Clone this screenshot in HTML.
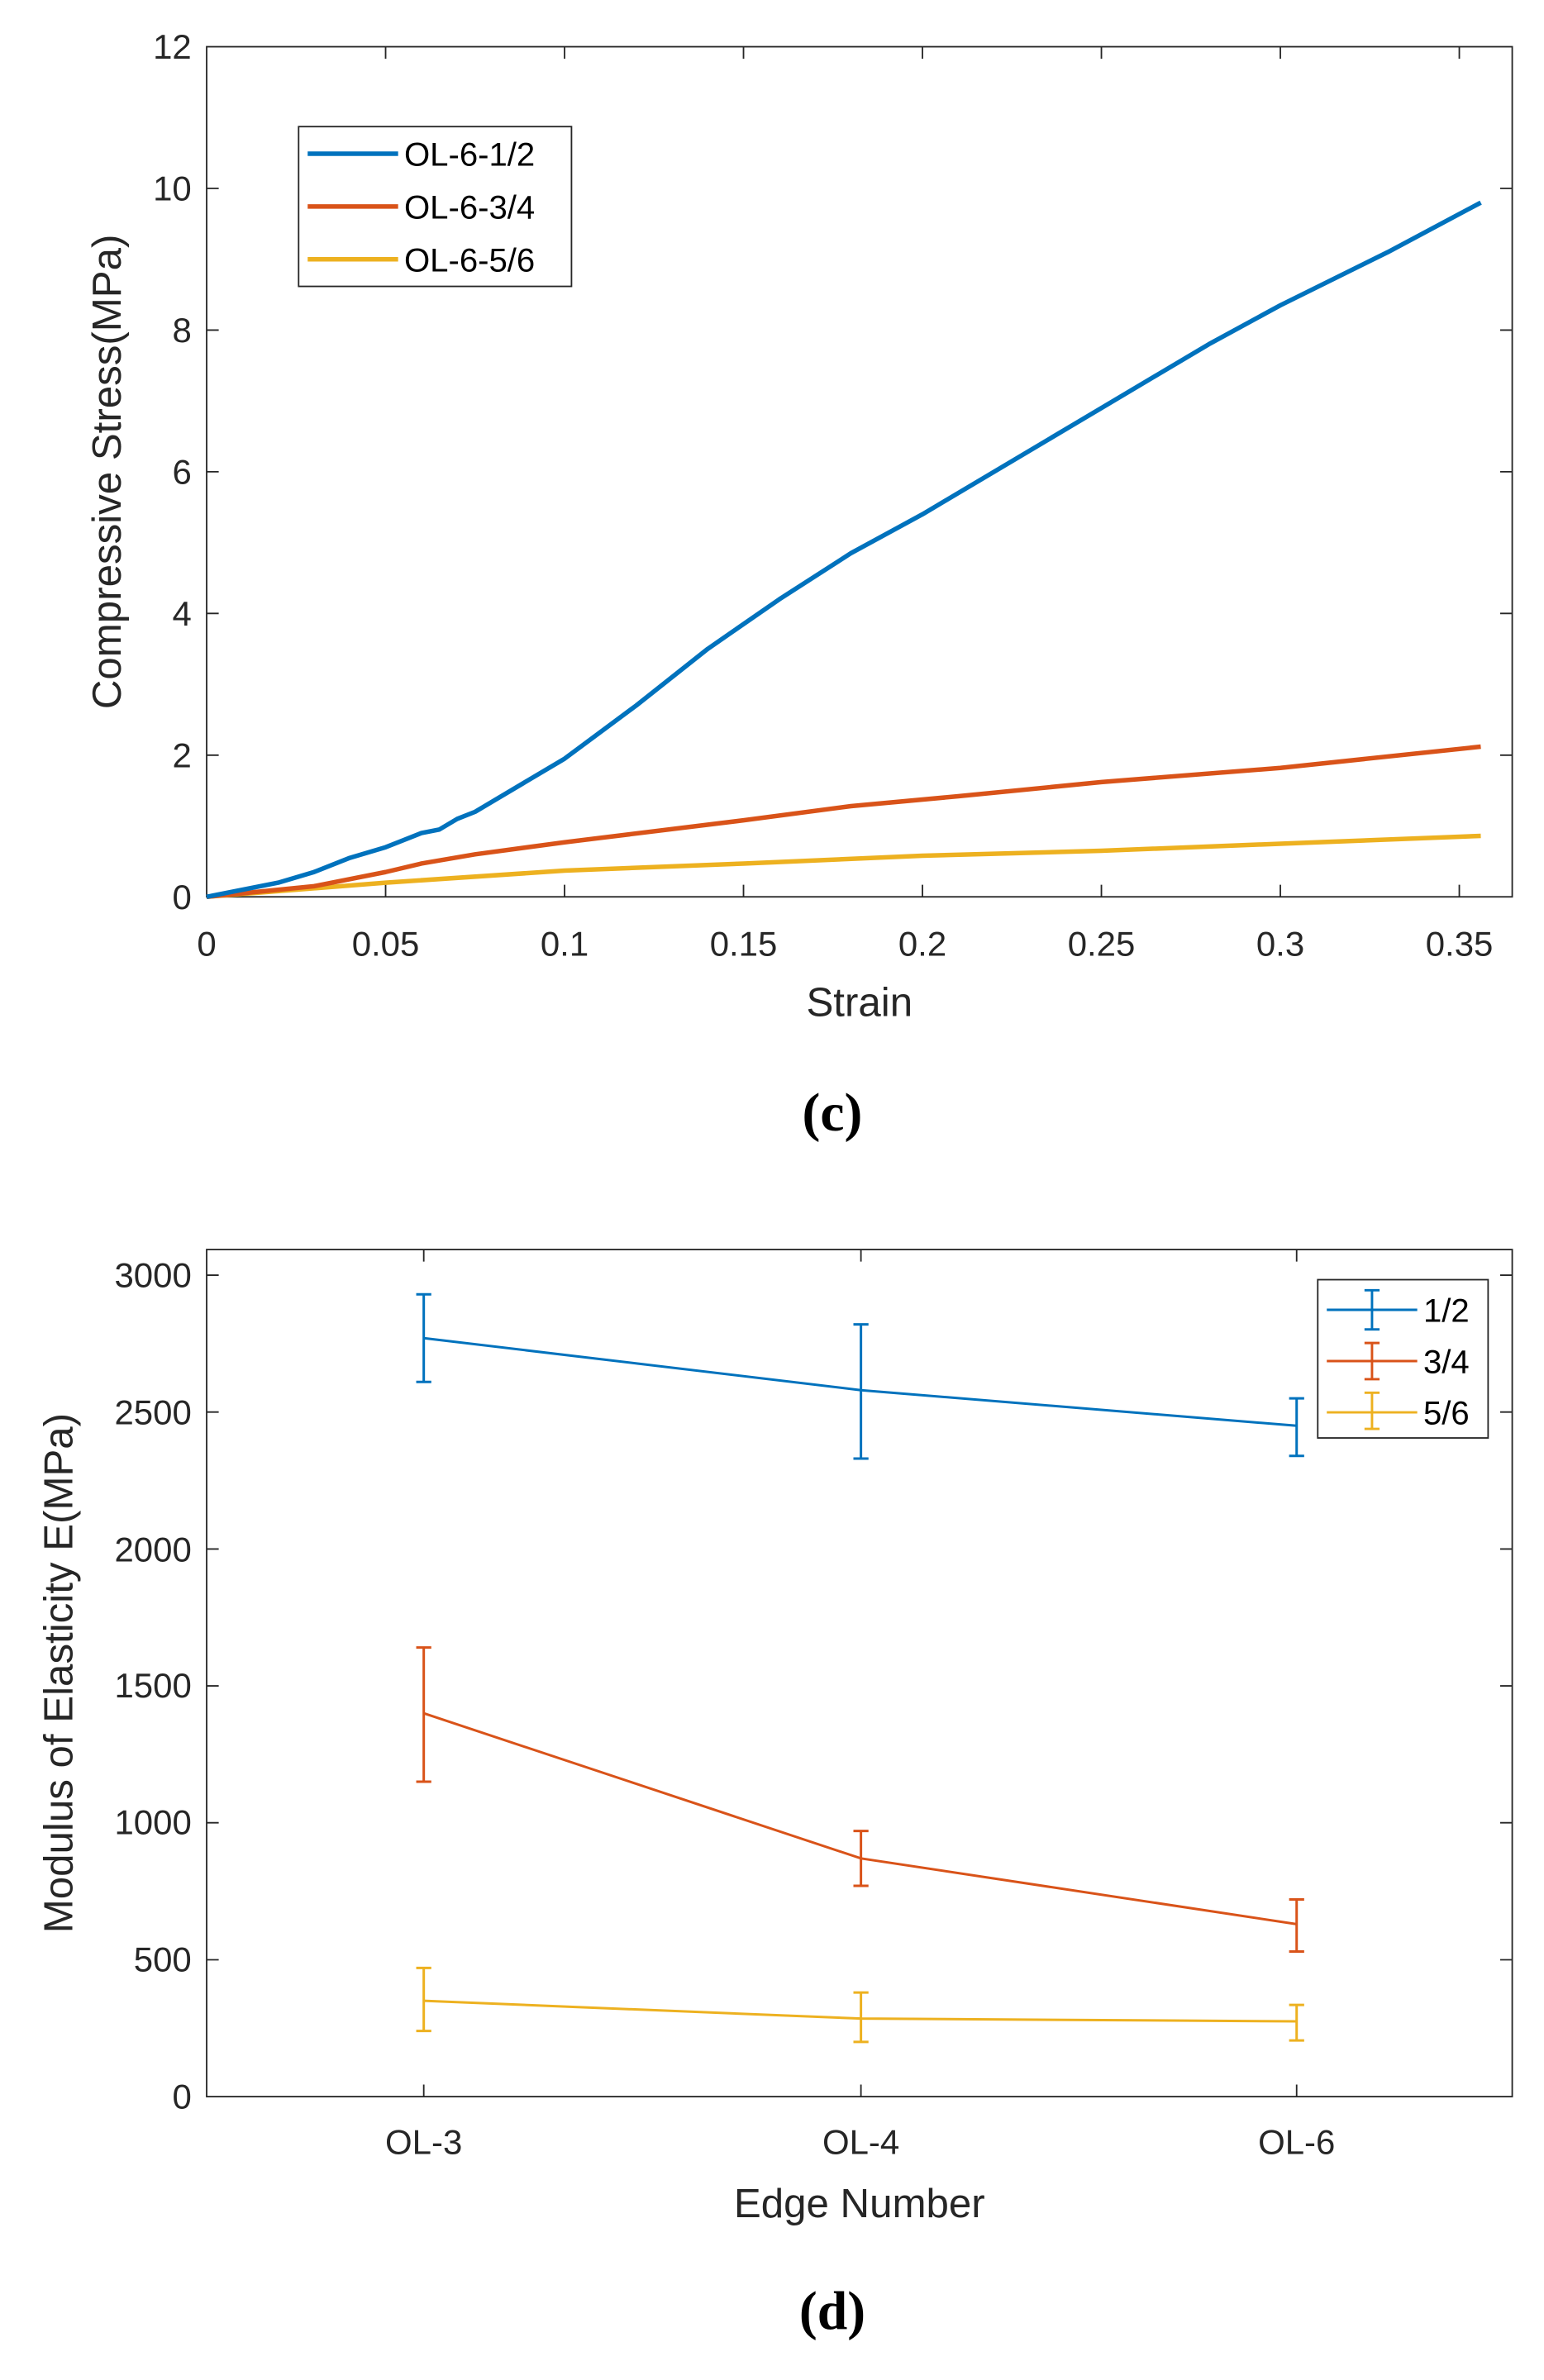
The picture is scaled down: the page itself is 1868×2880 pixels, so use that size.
<!DOCTYPE html>
<html><head><style>html,body{margin:0;padding:0;background:#fff}svg{display:block}</style></head>
<body>
<svg width="1868" height="2880" viewBox="0 0 1024 1579" xmlns="http://www.w3.org/2000/svg" font-family="Liberation Sans, Arial, sans-serif">
<rect width="1024" height="1579" fill="#fff"/>
<!-- TOP PLOT -->
<g stroke="#262626" stroke-width="1" fill="none">
<rect x="137" y="31" width="866" height="564"/>
<path d="M255.7,595v-8M374.4,595v-8M493.1,595v-8M611.8,595v-8M730.5,595v-8M849.2,595v-8M967.9,595v-8
M255.7,31v8M374.4,31v8M493.1,31v8M611.8,31v8M730.5,31v8M849.2,31v8M967.9,31v8
M137,501h8M137,407h8M137,313h8M137,219h8M137,125h8
M1003,501h-8M1003,407h-8M1003,313h-8M1003,219h-8M1003,125h-8"/>
</g>
<g font-size="23" fill="#262626" text-anchor="middle">
<text x="137" y="634">0</text><text x="255.7" y="634">0.05</text><text x="374.4" y="634">0.1</text><text x="493.1" y="634">0.15</text><text x="611.8" y="634">0.2</text><text x="730.5" y="634">0.25</text><text x="849.2" y="634">0.3</text><text x="967.9" y="634">0.35</text>
</g>
<g font-size="23" fill="#262626" text-anchor="end">
<text x="127" y="603">0</text><text x="127" y="509">2</text><text x="127" y="415">4</text><text x="127" y="321">6</text><text x="127" y="227">8</text><text x="127" y="133">10</text><text x="127" y="39">12</text>
</g>
<text x="570" y="674" font-size="27" fill="#262626" text-anchor="middle">Strain</text>
<text transform="translate(80,313) rotate(-90)" font-size="27" fill="#262626" text-anchor="middle">Compressive Stress(MPa)</text>
<g transform="translate(137,595) scale(2374,-47)" fill="none" stroke-width="5.5" stroke-linejoin="round">
<polyline vector-effect="non-scaling-stroke" stroke="#EDB120" points="0,0 0.05,0.2 0.1,0.37 0.15,0.47 0.2,0.58 0.25,0.65 0.3,0.75 0.356,0.86"/>
<polyline vector-effect="non-scaling-stroke" stroke="#D95319" points="0,0 0.03,0.15 0.05,0.35 0.06,0.47 0.075,0.6 0.1,0.77 0.15,1.08 0.18,1.28 0.21,1.42 0.25,1.62 0.3,1.82 0.356,2.12"/>
<polyline vector-effect="non-scaling-stroke" stroke="#0072BD" points="0,0 0.02,0.2 0.03,0.35 0.04,0.55 0.05,0.7 0.06,0.9 0.065,0.95 0.07,1.1 0.075,1.2 0.08,1.35 0.1,1.95 0.12,2.7 0.14,3.5 0.16,4.2 0.18,4.85 0.2,5.4 0.25,6.9 0.28,7.8 0.3,8.35 0.33,9.1 0.356,9.8"/>
</g>
<rect x="198" y="84" width="181" height="106" fill="#fff" stroke="#262626" stroke-width="1"/>
<g stroke-width="3"><line x1="204" y1="102" x2="264" y2="102" stroke="#0072BD"/><line x1="204" y1="137" x2="264" y2="137" stroke="#D95319"/><line x1="204" y1="172" x2="264" y2="172" stroke="#EDB120"/></g>
<g font-size="22" fill="#000"><text x="268" y="110">OL-6-1/2</text><text x="268" y="145">OL-6-3/4</text><text x="268" y="180">OL-6-5/6</text></g>
<text x="552" y="750" font-size="36" font-weight="bold" font-family="Liberation Serif, serif" text-anchor="middle">(c)</text>

<!-- BOTTOM PLOT -->
<g stroke="#262626" stroke-width="1" fill="none">
<rect x="137" y="829" width="866" height="562"/>
<path d="M281,1391v-8M571,1391v-8M860,1391v-8M281,829v8M571,829v8M860,829v8
M137,1300.2h8M137,1209.3h8M137,1118.5h8M137,1027.7h8M137,936.8h8M137,846h8
M1003,1300.2h-8M1003,1209.3h-8M1003,1118.5h-8M1003,1027.7h-8M1003,936.8h-8M1003,846h-8"/>
</g>
<g font-size="23" fill="#262626" text-anchor="end">
<text x="127" y="1399">0</text><text x="127" y="1308">500</text><text x="127" y="1217">1000</text><text x="127" y="1126">1500</text><text x="127" y="1036">2000</text><text x="127" y="945">2500</text><text x="127" y="854">3000</text>
</g>
<g font-size="23" fill="#262626" text-anchor="middle"><text x="281" y="1429">OL-3</text><text x="571" y="1429">OL-4</text><text x="860" y="1429">OL-6</text></g>
<text x="570" y="1471" font-size="27" fill="#262626" text-anchor="middle">Edge Number</text>
<text transform="translate(48,1110) rotate(-90)" font-size="27" fill="#262626" text-anchor="middle">Modulus of Elasticity E(MPa)</text>
<g transform="translate(0,1391) scale(1,-0.18167)" fill="none" stroke-width="3">
<g stroke="#0072BD">
<polyline vector-effect="non-scaling-stroke" points="281,2770 571,2580 860,2450"/>
<path vector-effect="non-scaling-stroke" d="M281,2610V2930M276,2610h10M276,2930h10M571,2330V2820M566,2330h10M566,2820h10M860,2340V2550M855,2340h10M855,2550h10"/>
</g>
<g stroke="#D95319">
<polyline vector-effect="non-scaling-stroke" points="281,1400 571,870 860,630"/>
<path vector-effect="non-scaling-stroke" d="M281,1150V1640M276,1150h10M276,1640h10M571,770V970M566,770h10M566,970h10M860,530V720M855,530h10M855,720h10"/>
</g>
<g stroke="#EDB120">
<polyline vector-effect="non-scaling-stroke" points="281,350 571,285 860,275"/>
<path vector-effect="non-scaling-stroke" d="M281,240V470M276,240h10M276,470h10M571,200V380M566,200h10M566,380h10M860,205V335M855,205h10M855,335h10"/>
</g>
</g>
<rect x="874" y="849" width="113" height="105" fill="#fff" stroke="#262626" stroke-width="1"/>
<g stroke-width="1.6" fill="none">
<path stroke="#0072BD" d="M880,869h60M910,856v26M905,856h10M905,882h10"/>
<path stroke="#D95319" d="M880,903h60M910,891v24M905,891h10M905,915h10"/>
<path stroke="#EDB120" d="M880,937h60M910,924v24M905,924h10M905,948h10"/>
</g>
<g font-size="22" fill="#000"><text x="944" y="877">1/2</text><text x="944" y="911">3/4</text><text x="944" y="945">5/6</text></g>
<text x="552" y="1545" font-size="36" font-weight="bold" font-family="Liberation Serif, serif" text-anchor="middle">(d)</text>
</svg>
</body></html>
